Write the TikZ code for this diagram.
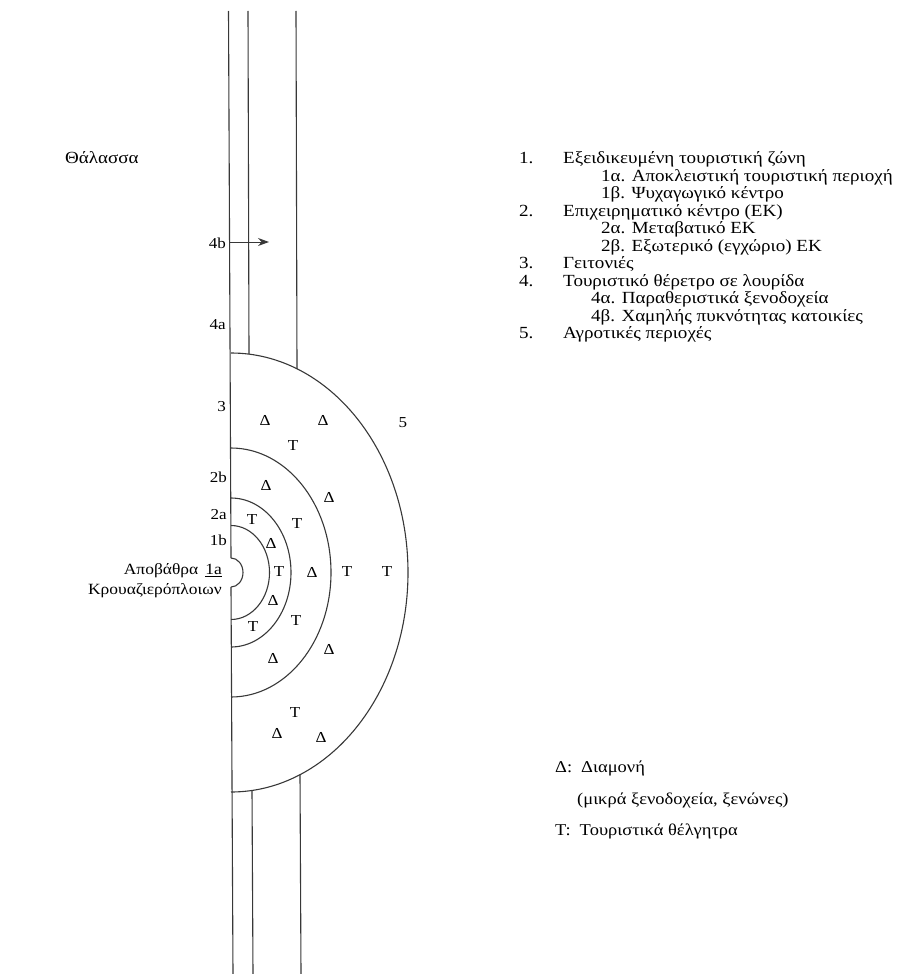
\documentclass[tikz,border=0pt]{standalone}
\usepackage{fontspec}
\setmainfont[FakeStretch=1.12]{Liberation Serif}
\usetikzlibrary{arrows.meta}
\begin{document}
\begin{tikzpicture}[x=1pt,y=-1pt,
  ln/.style={line width=1.1pt, draw=black!78},
  txt/.style={font=\fontsize{17}{17}\selectfont, inner sep=0pt, anchor=base west},
  key/.style={font=\fontsize{16.5}{17}\selectfont, inner sep=0pt, anchor=base west},
  lbl/.style={font=\fontsize{15.2}{16}\selectfont, inner sep=0pt, anchor=east},
  sym/.style={font=\fontsize{15.2}{16}\selectfont, inner sep=0pt}]
\useasboundingbox (0,0) rectangle (913,974);

% --- coast and strips ---
\draw[ln] (228.5,11) -- (231,558);
\draw[ln] (231,587) -- (233,974);
\draw[ln] (248,11) -- (249,354.1);
\draw[ln] (252,790.4) -- (253,974);
\draw[ln] (296,11) -- (297,368.8);
\draw[ln] (300,774.6) -- (301,974);

% --- zones (half ellipses) ---
\draw[ln] (231,558) arc[start angle=-90, end angle=90, x radius=12, y radius=14.5];
\draw[ln] (231,525.5) arc[start angle=-90, end angle=90, x radius=38.5, y radius=47];
\draw[ln] (231,498) arc[start angle=-90, end angle=90, x radius=60, y radius=74.5];
\draw[ln] (231,448) arc[start angle=-90, end angle=90, x radius=100, y radius=124.5];
\draw[ln] (231,353) arc[start angle=-90, end angle=90, x radius=177, y radius=219.5];

% --- arrow 4b ---
\coordinate (a4bs) at (230.3,242);
\coordinate (a4be) at (269,242);
\draw[ln, line width=1pt, -{Stealth[length=11pt,width=8pt]}] (a4bs) -- (a4be);

% --- left labels ---
\node[txt] (sea) at (65,163.5) {Θάλασσα};
\node[lbl] (l4b) at (226,243) {4b};
\node[lbl] (l4a) at (226,325) {4a};
\node[lbl] (l3) at (226,407) {3};
\node[lbl] (l2b) at (227,477) {2b};
\node[lbl] (l2a) at (227,515) {2a};
\node[lbl] (l1b) at (227,540) {1b};
\node[lbl, font=\fontsize{15.6}{16}\selectfont] (pier1) at (222,571) {Αποβάθρα\hspace{7pt}\underline{1a}};
\node[lbl, font=\fontsize{15.6}{16}\selectfont] (pier2) at (222,591) {Κρουαζιερόπλοιων};

% --- symbols in zones ---
\node[sym] (d1) at (265,420) {Δ};
\node[sym] (d2) at (323,420) {Δ};
\node[sym] (t1) at (293,446) {T};
\node[sym] (n5) at (403,423) {5};
\node[sym] (d3) at (266,485) {Δ};
\node[sym] (d4) at (329,497) {Δ};
\node[sym] (t2) at (252,520) {T};
\node[sym] (t3) at (297,524) {T};
\node[sym] (d5) at (271,543) {Δ};
\node[sym] (t4) at (279,572) {T};
\node[sym] (d6) at (312,572) {Δ};
\node[sym] (t5) at (347,572) {T};
\node[sym] (t6) at (387,572) {T};
\node[sym] (d7) at (273,600) {Δ};
\node[sym] (t7) at (253,627) {T};
\node[sym] (t8) at (296,621) {T};
\node[sym] (d8) at (273,658) {Δ};
\node[sym] (d9) at (329,649) {Δ};
\node[sym] (t9) at (295,713) {T};
\node[sym] (d10) at (277,733) {Δ};
\node[sym] (d11) at (321,737) {Δ};

% --- legend list ---
\node[txt] (n1) at (519,163.5) {1.};
\node[txt] (e1) at (563,163.5) {Εξειδικευμένη τουριστική ζώνη};
\node[txt] (e1a) at (601,181) {1α. Αποκλειστική τουριστική περιοχή};
\node[txt] (e1b) at (601,198.5) {1β. Ψυχαγωγικό κέντρο};
\node[txt] (n2) at (519,216) {2.};
\node[txt] (e2) at (563,216) {Επιχειρηματικό κέντρο (ΕΚ)};
\node[txt] (e2a) at (601,233.5) {2α. Μεταβατικό ΕΚ};
\node[txt] (e2b) at (601,251) {2β. Εξωτερικό (εγχώριο) ΕΚ};
\node[txt] (n3) at (519,268.5) {3.};
\node[txt] (e3) at (563,268.5) {Γειτονιές};
\node[txt] (n4) at (519,286) {4.};
\node[txt] (e4) at (563,286) {Τουριστικό θέρετρο σε λουρίδα};
\node[txt] (e4a) at (591,303.5) {4α. Παραθεριστικά ξενοδοχεία};
\node[txt] (e4b) at (591,321) {4β. Χαμηλής πυκνότητας κατοικίες};
\node[txt] (n5l) at (519,338.5) {5.};
\node[txt] (e5) at (563,338.5) {Αγροτικές περιοχές};

% --- symbol key ---
\node[key] (kd) at (555,772.5) {Δ:\hspace{9pt}Διαμονή};
\node[key] (kd2) at (577,804.5) {(μικρά ξενοδοχεία, ξενώνες)};
\node[key] (kt) at (555,835.5) {Τ:\hspace{9pt}Τουριστικά θέλγητρα};
\end{tikzpicture}
\end{document}
